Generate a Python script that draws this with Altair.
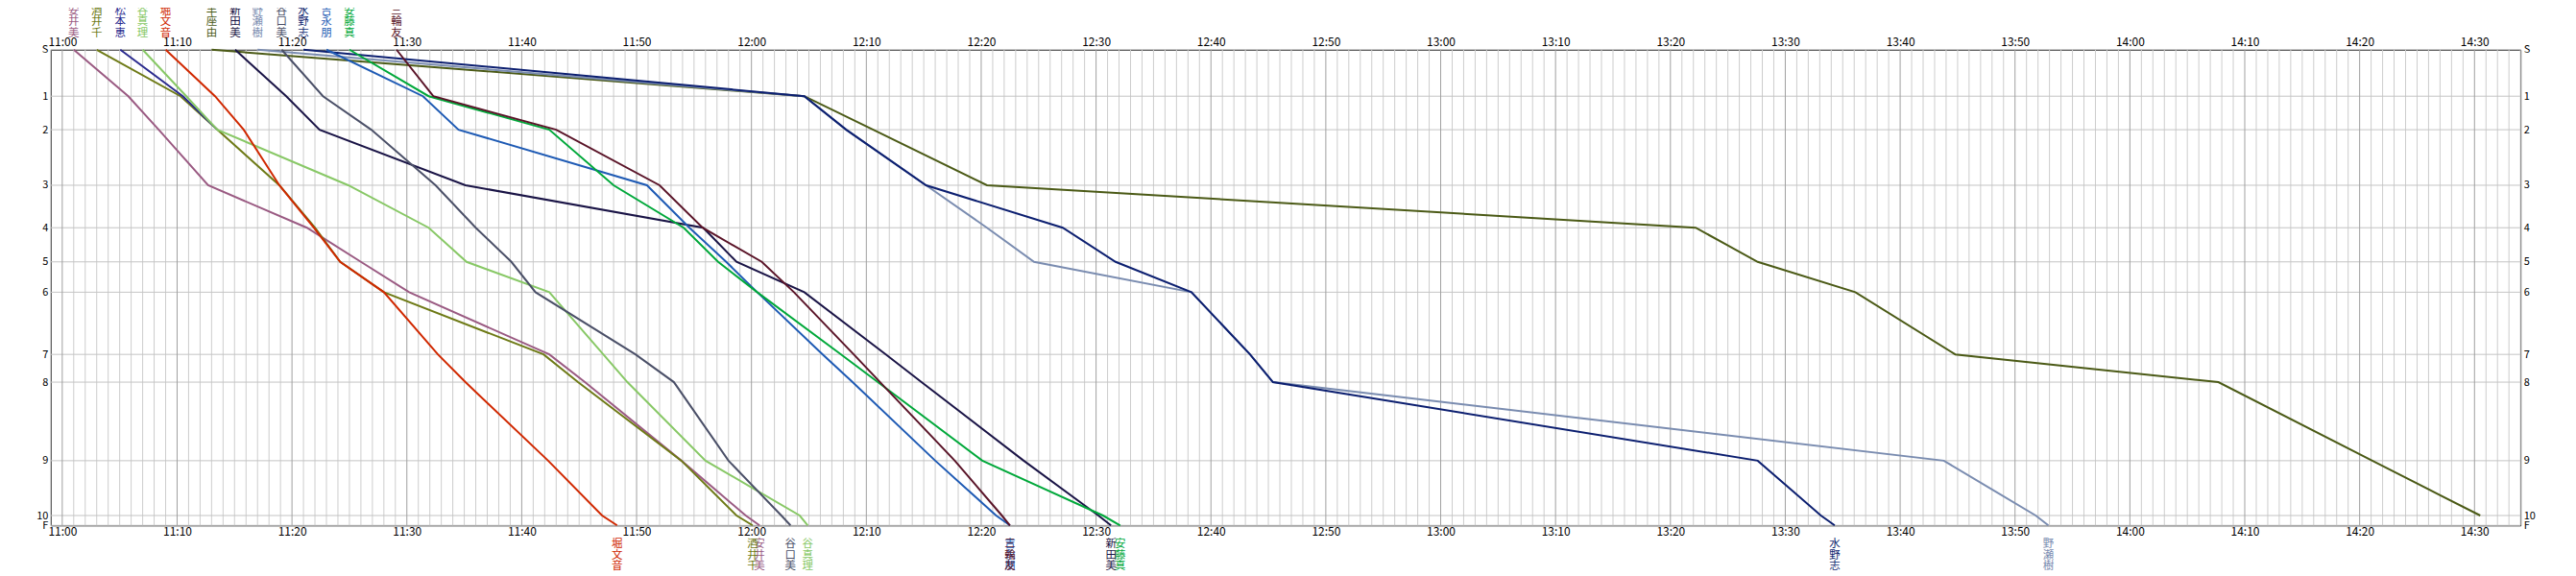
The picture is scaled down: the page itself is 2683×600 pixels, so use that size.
import json
import altair as alt
import pandas as pd

FONT = "Noto Sans CJK JP"

# Controls (y axis) and their relative positions along the course (S = 0, F = 1)
CONTROLS = ["S", "1", "2", "3", "4", "5", "6", "7", "8", "9", "10", "F"]
CONTROL_POS = [0.0, 0.0978, 0.1682, 0.2850, 0.3743, 0.4460, 0.5098, 0.6406, 0.6989, 0.8640, 0.9793, 1.0]

# Time axis: minutes after 11:00
TIME_DOMAIN = [-1, 214]
TIME_TICKS = list(range(0, 211, 10))
MINUTE_GRID = list(range(-1, 215))

RUNNERS = ["安井美", "酒井千", "松本恵", "谷真理", "堀文音", "半座由", "新田美",
           "野瀬樹", "谷口美", "水野志", "吉永朋", "安藤真", "三輪友"]
COLORS = ["#9a5a82", "#6e7a16", "#2a2a8e", "#88c866", "#d02800", "#4b5a16", "#1a1446",
          "#7a8cb0", "#4b5068", "#0c1f70", "#1e5ab4", "#00a83a", "#5a1428"]

# Passing times at S,1..10,F in minutes after 11:00 (None = no record)
yasui = [1.0, 5.75, 8.4, 12.7, 21.3, 26.0, 30.2, 42.4, 45.5, 53.9, 59.5, 60.7]
sakai = [3.0, 10.3, 13.5, 18.9, 22.0, 24.2, 28.0, 41.9, 44.9, 53.9, 58.7, 60.1]
matsumoto = [5.05, 10.5, 13.5, None, None, None, None, None, None, None, None, None]
tanima = [7.0, 10.8, 13.5, 24.9, 31.9, 35.2, 42.4, 47.1, 49.2, 56.0, 64.2, 64.9]
hori = [9.0, 13.3, 15.8, 18.9, 21.9, 24.2, 28.0, 32.7, 35.1, 42.3, 47.0, 48.3]
hanza = [13.0, 64.6, 70.6, 80.5, 142.2, 147.6, 156.1, 164.8, 187.7, 201.1, 210.5, None]
nitta = [15.05, 19.5, 22.4, 35.1, 55.8, 58.7, 64.6, 71.7, 74.8, 83.7, 90.2, 91.3]
nose = [17.0, 64.6, 68.25, 75.2, 80.5, 84.6, 98.3, 103.4, 105.4, 163.8, 171.8, 172.9]
taniguchi = [19.1, 22.7, 26.9, 32.5, 36.0, 39.1, 41.2, 49.9, 53.25, 58.0, 62.6, 63.4]
mizuno = [21.0, 64.6, 68.25, 75.2, 87.1, 91.7, 98.3, 103.4, 105.4, 147.6, 153.1, 154.3]
yoshinaga = [23.0, 31.4, 34.5, 50.9, 54.6, 57.8, 60.5, 66.2, 68.8, 76.0, 81.3, 82.5]
ando = [25.0, 31.9, 42.4, 48.0, 54.1, 57.1, 60.5, 67.8, 71.0, 80.1, 90.6, 92.1]
miwa = [29.1, 32.3, 43.0, 52.0, 55.75, 60.9, 63.7, 68.9, 71.2, 77.7, 81.8, 82.5]

ALL_SPLITS = [yasui, sakai, matsumoto, tanima, hori, hanza, nitta,
              nose, taniguchi, mizuno, yoshinaga, ando, miwa]

# ---- tables built from the lists above ----
rows = []
for i, (name, splits) in enumerate(zip(RUNNERS, ALL_SPLITS)):
    for k, (ctrl, pos, t) in enumerate(zip(CONTROLS, CONTROL_POS, splits)):
        if t is None:
            continue
        rows.append({"runner": name, "ri": i, "ctrl": ctrl, "k": k, "pos": pos, "t": t})
df = pd.DataFrame(rows)

start_df = pd.DataFrame([
    {"runner": n, "t": s[0], "label": "\n".join(n)} for n, s in zip(RUNNERS, ALL_SPLITS)
])
finish_df = pd.DataFrame([
    {"runner": n, "t": s[-1], "label": "\n".join(n)}
    for n, s in zip(RUNNERS, ALL_SPLITS) if s[-1] is not None
])
minor_df = pd.DataFrame({"m": [m for m in MINUTE_GRID if m % 10 != 0]})
major_df = pd.DataFrame({"m": [m for m in MINUTE_GRID if m % 10 == 0]})
ctrl_df = pd.DataFrame({"ctrl": CONTROLS, "pos": CONTROL_POS})

W, H = 2580, 497

xs = alt.Scale(domain=TIME_DOMAIN, nice=False, zero=False)
ys = alt.Scale(domain=[0, 1], reverse=True, nice=False, zero=False)
color_scale = alt.Scale(domain=RUNNERS, range=COLORS)

time_label = ("(11 + floor(datum.value / 60)) + ':' + "
              "(datum.value % 60 < 10 ? '0' : '') + (datum.value % 60)")
ctrl_label = f"{json.dumps(CONTROLS)}[indexof({json.dumps(CONTROL_POS)}, datum.value)]"


def time_axis(orient):
    return alt.Axis(orient=orient, values=TIME_TICKS, labelExpr=time_label, grid=False,
                    ticks=False, domain=False, title=None, labelFont=FONT, labelFontSize=12,
                    labelColor="black", labelPadding=1, labelOverlap=False, labelFlush=False,
                    labelBound=False)


def ctrl_axis(orient):
    return alt.Axis(orient=orient, values=CONTROL_POS, labelExpr=ctrl_label, grid=False,
                    ticks=False, domain=False, title=None, labelFont=FONT, labelFontSize=11,
                    labelColor="black", labelPadding=3, labelOverlap=False, labelFlush=False,
                    labelBound=False)


minor = alt.Chart(minor_df).mark_rule(color="#cdcdcd", strokeWidth=1).encode(
    x=alt.X("m:Q", scale=xs, axis=None))
major = alt.Chart(major_df).mark_rule(color="#a0a0a0", strokeWidth=1).encode(
    x=alt.X("m:Q", scale=xs, axis=None))
hrules = alt.Chart(ctrl_df).mark_rule(color="#c4c4c4", strokeWidth=1).encode(
    y=alt.Y("pos:Q", scale=ys, axis=ctrl_axis("right")))

lines = alt.Chart(df).mark_line(strokeWidth=2).encode(
    x=alt.X("t:Q", scale=xs, axis=time_axis("bottom")),
    y=alt.Y("pos:Q", scale=ys, axis=ctrl_axis("left")),
    color=alt.Color("runner:N", scale=color_scale, legend=None),
    detail="runner:N",
    order="k:Q",
)

start_names = alt.Chart(start_df).mark_text(
    font=FONT, fontSize=11.5, lineHeight=11.5, lineBreak="\n", align="center", baseline="top"
).encode(
    x=alt.X("t:Q", scale=xs, axis=time_axis("top")),
    y=alt.value(-46),
    text="label:N",
    color=alt.Color("runner:N", scale=color_scale, legend=None),
)

finish_names = alt.Chart(finish_df).mark_text(
    font=FONT, fontSize=11.5, lineHeight=11.5, lineBreak="\n", align="center", baseline="top"
).encode(
    x=alt.X("t:Q", scale=xs, axis=None),
    y=alt.value(H + 14),
    text="label:N",
    color=alt.Color("runner:N", scale=color_scale, legend=None),
)

chart = alt.layer(minor, hrules, major, lines, start_names, finish_names).resolve_scale(
    x="independent", y="independent"
).properties(
    width=W, height=H,
    autosize=alt.AutoSizeParams(type="none"),
    padding={"left": 45, "top": 43, "right": 50, "bottom": 52},
    background="white",
).configure_view(stroke="black", strokeWidth=1)

chart.save("out.html", embed_options={"renderer": "svg", "actions": False})
